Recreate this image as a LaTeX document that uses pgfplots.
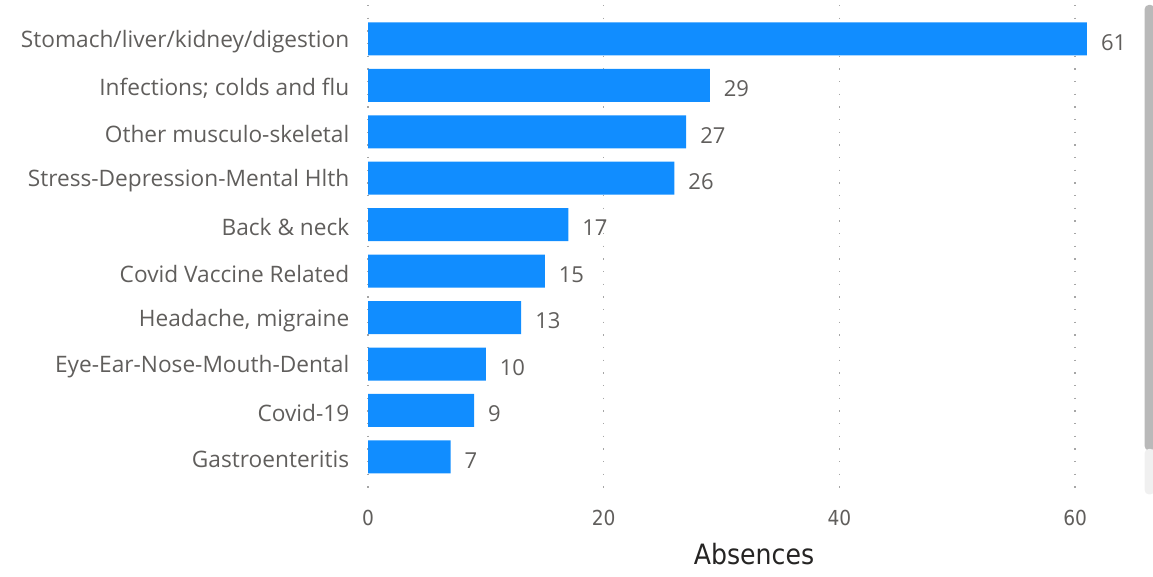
\documentclass[border=0pt]{standalone}
\usepackage{pgfplots}
\pgfplotsset{compat=1.18}
\usepackage{fontspec}
\setmainfont{Open Sans}
\newfontfamily\dinfont{DejaVu Sans Condensed}
\definecolor{barblue}{HTML}{118DFF}
\definecolor{labgray}{HTML}{605E5C}
\definecolor{titlegray}{HTML}{252423}
\begin{document}
\begin{tikzpicture}
\useasboundingbox (0,0) rectangle (864.75pt,432.75pt);
\begin{axis}[
  at={(276pt,61.5pt)}, anchor=south west,
  scale only axis, width=579pt, height=367.5pt,
  xbar, bar width=0.71,
  y dir=reverse,
  xmin=0, xmax=65.5,
  ymin=-0.73, ymax=9.82,
  ytick={0,...,9},
  yticklabels={Stomach/liver/kidney/digestion,Infections; colds and flu,Other musculo-skeletal,Stress-Depression-Mental Hlth,Back \& neck,Covid Vaccine Related,{Headache, migraine},Eye-Ear-Nose-Mouth-Dental,Covid-19,Gastroenteritis},
  xtick={0,20,40,60},
  axis line style={draw=none},
  major tick length=0pt,
  xmajorgrids,
  grid style={draw=gray!70, line width=1.1pt, dash pattern=on 0.9pt off 8.6pt},
  yticklabel style={font=\fontsize{17}{20}\selectfont, text=labgray, xshift=-10.5pt, yshift=-2pt},
  xticklabel style={font=\dinfont\fontsize{15.5}{18}\selectfont, text=labgray, yshift=-8pt},
  /pgf/number format/assume math mode=true,
  xlabel={Absences},
  xlabel style={font=\dinfont\fontsize{21}{24}\selectfont, text=titlegray, yshift=-6pt},
  nodes near coords,
  nodes near coords style={font=\fontsize{16.5}{19}\selectfont, text=labgray, anchor=west, xshift=7pt, yshift=-2.5pt},
]
\addplot[fill=barblue, draw=none] coordinates {
(61,0) (29,1) (27,2) (26,3) (17,4) (15,5) (13,6) (10,7) (9,8) (7,9)
};
\end{axis}
\fill[gray!55, rounded corners=3pt] (858.5pt,95pt) rectangle (866pt,429pt);
\fill[gray!12, rounded corners=3pt] (858.5pt,62pt) rectangle (866pt,96pt);
\end{tikzpicture}
\end{document}
